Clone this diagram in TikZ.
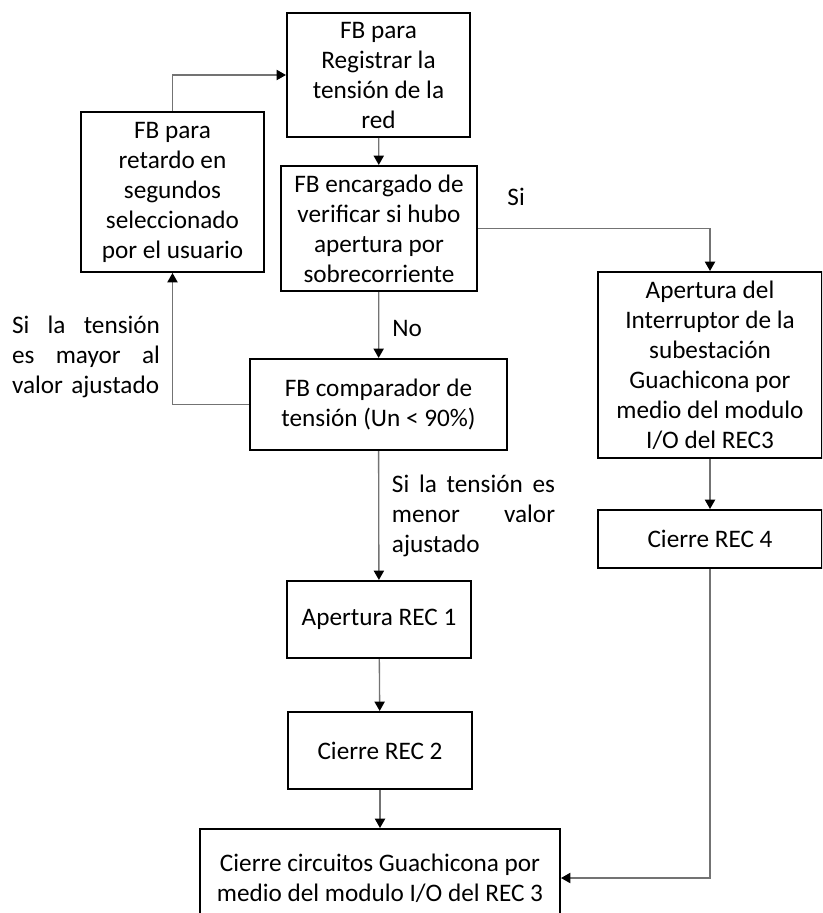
\documentclass[tikz,border=0pt]{standalone}
\usepackage{fontspec}
\setmainfont{Carlito}
\usetikzlibrary{arrows.meta}

\begin{document}
\begin{tikzpicture}[x = 0.45pt, y = -0.45pt,
    every node/.style = {font = \fontsize{11.35}{13.5}\selectfont},
    caja/.style = {draw, line width = 0.9pt, align = center, inner sep = 0pt},
    flecha/.style = {draw = black!55, line width = 0.6pt,
        -{Triangle[color = black, length = 4.2pt, width = 4.6pt]}},
    rotulo/.style = {align = left, inner sep = 0pt}]
    \useasboundingbox (0,0) rectangle (822,913);
    \clip (0,0) rectangle (822,913);
    % bloques de la columna central
    \node[caja, minimum width = 82.4pt, minimum height = 55.8pt] (registro) at (378.5,75)
        {FB para\\Registrar la\\tensión de la\\red};
    \node[caja, minimum width = 88.2pt, minimum height = 56.3pt] (verifica) at (379,228.5)
        {FB encargado de\\verificar si hubo\\apertura por\\sobrecorriente};
    \node[caja, minimum width = 115.7pt, minimum height = 41pt] (compara) at (378.5,404.5)
        {FB comparador de\\tensión (Un < 90\%)};
    \node[caja, minimum width = 82.8pt, minimum height = 34.7pt] (apertura1) at (379,619.5)
        {Apertura REC 1};
    \node[caja, minimum width = 82.8pt, minimum height = 34.7pt] (cierre2) at (380,750.5)
        {Cierre REC 2};
    \node[caja, minimum width = 162pt, minimum height = 44.1pt] (cierreGua) at (380,878)
        {Cierre circuitos Guachicona por\\medio del modulo I/O del REC 3};
    % bloque de retardo
    \node[caja, minimum width = 82.4pt, minimum height = 72pt] (retardo) at (172.5,192)
        {FB para\\retardo en\\segundos\\seleccionado\\por el usuario};
    % rama de sobrecorriente
    \node[caja, minimum width = 100.4pt, minimum height = 83.7pt] (interruptor) at (710,365)
        {Apertura del\\Interruptor de la\\subestación\\Guachicona por\\medio del modulo\\I/O del REC3};
    \node[caja, minimum width = 100.4pt, minimum height = 26.1pt] (cierre4) at (710,539)
        {Cierre REC 4};
    % rotulos
    \node[rotulo, anchor = west] (si) at (507,197) {Si};
    \node[rotulo, anchor = west] (no) at (392,328) {No};
    \node[rotulo, text width = 66.6pt] (mayor) at (86,357)
        {Si\hfill la\hfill tensión\\es\hfill mayor\hfill al\\valor ajustado};
    \node[rotulo, text width = 73.4pt] (menor) at (473.5,516)
        {Si\hfill la\hfill tensión\hfill es\\menor\hfill valor\\ajustado};
    % conexiones
    \draw[flecha] (registro) -- (verifica);
    \draw[flecha] (verifica) -- (compara);
    \draw[flecha] (compara) -- (apertura1);
    \draw[flecha] (apertura1) -- (cierre2);
    \draw[flecha] (cierre2) -- (cierreGua);
    \draw[flecha] (retardo.north) |- (registro.west);
    \draw[flecha] (compara.west) -| (retardo.south);
    \draw[flecha] (verifica.east) -| (interruptor.north);
    \draw[flecha] (interruptor) -- (cierre4);
    \draw[flecha] (cierre4.south) |- (cierreGua.east);
\end{tikzpicture}
\end{document}
